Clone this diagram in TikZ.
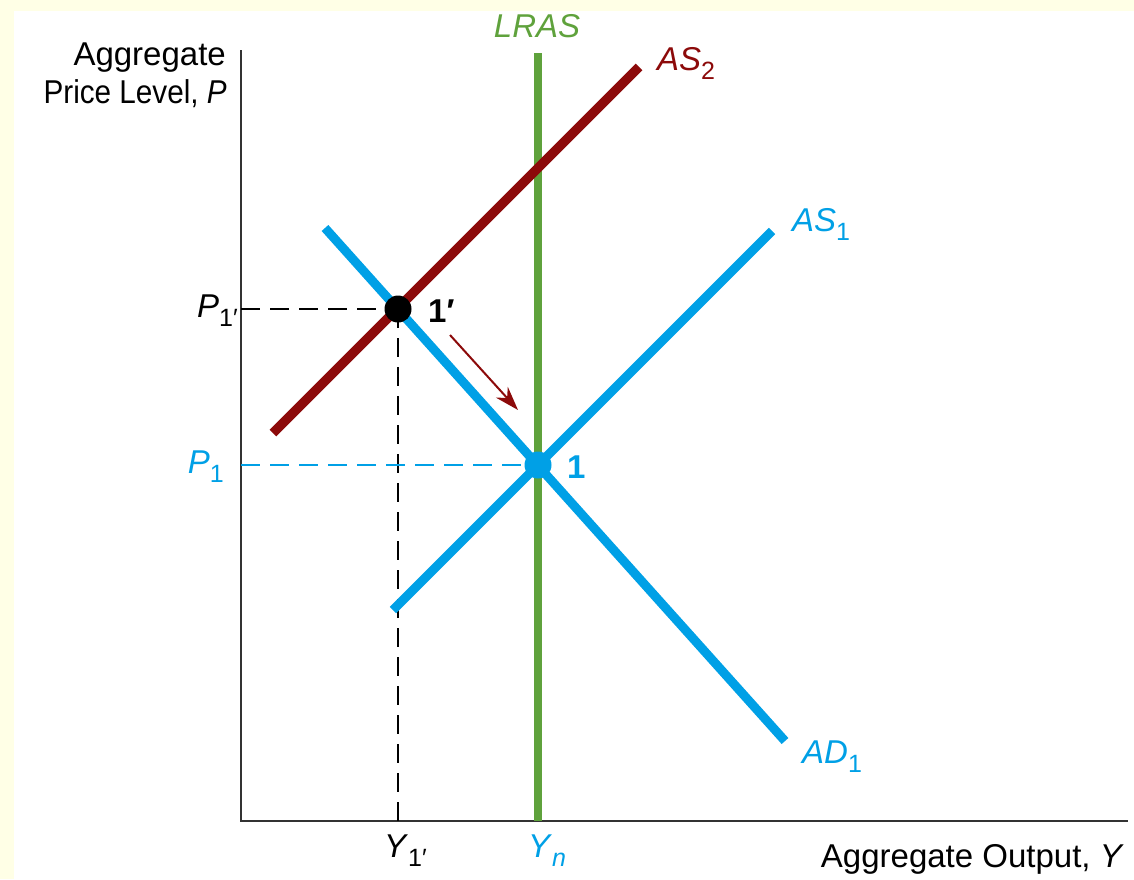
\documentclass[tikz,border=0pt]{standalone}
\usepackage{fontspec}
\usepackage{graphicx}
\setmainfont{Liberation Sans}
\usetikzlibrary{arrows.meta}
\definecolor{cream}{HTML}{FFFFE6}
\definecolor{adblue}{HTML}{00A0E6}
\definecolor{asred}{HTML}{8C0A0A}
\definecolor{lrgreen}{HTML}{5FA23C}
\definecolor{axisgray}{HTML}{333333}
\newcommand{\lbsub}[1]{\raisebox{-9pt}{\fontsize{25}{25}\selectfont #1}}
\begin{document}
\begin{tikzpicture}[x=1pt,y=-1pt,
  lbl/.style={inner sep=0pt, font=\fontsize{33}{39}\selectfont},
  curve/.style={line width=9pt},
  guide/.style={line width=2.5pt, dash pattern=on 19pt off 10pt},
  dot/.style={circle, inner sep=0pt, minimum size=27pt}
]
\fill[cream] (0,0) rectangle (1134,879);
\fill[white] (14,11) rectangle (1134,879);
\useasboundingbox (0,0) rectangle (1134,879);

% key coordinates
\coordinate (O) at (241,821);
\coordinate (ytop) at (241,50);
\coordinate (xend) at (1128,821);
\coordinate (lrtop) at (538,53);
\coordinate (lrbot) at (538,821);
\coordinate (as2lo) at (273,433);
\coordinate (as2hi) at (639,67);
\coordinate (adhi) at (325,228);
\coordinate (adlo) at (785,741);
\coordinate (as1lo) at (393,610);
\coordinate (as1hi) at (772,231);
\coordinate (Yb) at (398,821);
\coordinate (Pb) at (241,309);
\coordinate (P1b) at (241,465);
\coordinate (arA) at (450,335);
\coordinate (arB) at (518,410);

% axes
\draw[axisgray, line width=2.5pt] (ytop) -- (O) -- (xend);

% guides
\draw[guide, black] (Pb) -- (398,309);
\draw[guide, black] (398,309) -- (Yb);
\draw[guide, adblue] (P1b) -- (538,465);

% curves
\draw[curve, lrgreen, line width=8.5pt] (lrtop) -- (lrbot);
\draw[curve, adblue] (as1lo) -- (as1hi);
\draw[curve, adblue] (adhi) -- (adlo);
\draw[curve, asred, line width=9.5pt] (as2lo) -- (as2hi);

% equilibrium points
\node[dot, fill=black] (E1p) at (398,309) {};
\node[dot, fill=adblue] (E1) at (538,465) {};

% arrow
\draw[asred, line width=2pt, -{Stealth[length=24pt,width=16pt]}] (arA) -- (arB);

% labels
\node[lbl, anchor=base east] (ylab1) at (226,65) {Aggregate};
\node[lbl, anchor=base east] (ylab2) at (227,103) {\scalebox{0.9}[1]{Price Level, \textit{P}}};
\node[lbl, anchor=base east] (xlab) at (1124,867) {Aggregate Output, \textit{Y}};
\node[lbl, anchor=base, text=lrgreen] (lrlab) at (537,37) {\textit{LRAS}};
\node[lbl, anchor=base west, text=asred] (as2lab) at (657,70) {\textit{AS}\lbsub{2}};
\node[lbl, anchor=base west, text=adblue] (as1lab) at (792,231) {\textit{AS}\lbsub{1}};
\node[lbl, anchor=base west, text=adblue] (adlab) at (802,763) {\textit{AD}\lbsub{1}};
\node[lbl, anchor=base east] (p1plab) at (238,317) {\textit{P}\lbsub{1′}};
\node[lbl, anchor=base east, text=adblue] (p1lab) at (224,473) {\textit{P}\lbsub{1}};
\node[lbl, anchor=base west] (y1plab) at (384,857) {\textit{Y}\lbsub{1′}};
\node[lbl, anchor=base west, text=adblue] (ynlab) at (528,857) {\textit{Y}\lbsub{\textit{n}}};
\node[lbl, anchor=base west, font=\fontsize{33}{39}\selectfont\bfseries] (e1plab) at (428,322) {1′};
\node[lbl, anchor=base west, text=adblue, font=\fontsize{33}{39}\selectfont\bfseries] (e1lab) at (567,478) {1};
\end{tikzpicture}
\end{document}
